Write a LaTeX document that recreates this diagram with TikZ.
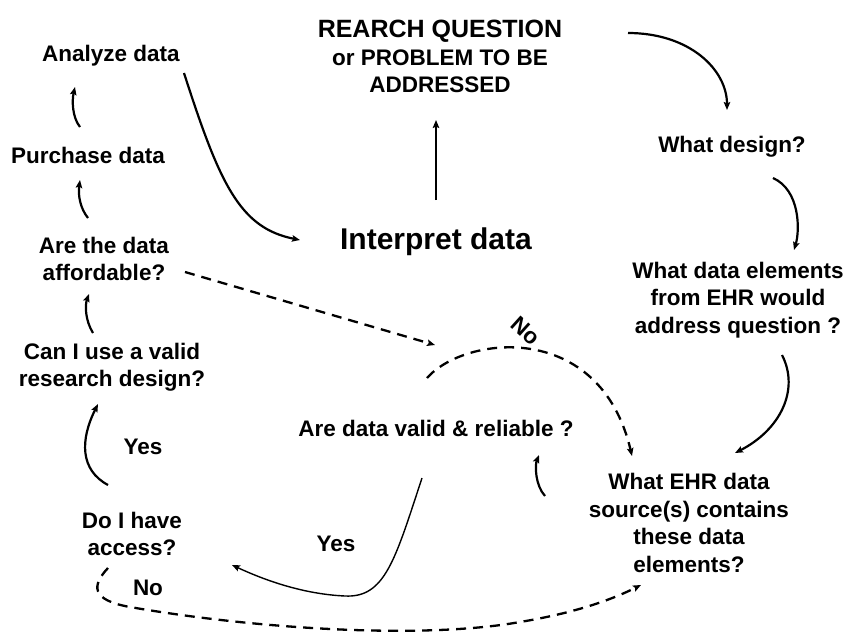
\documentclass[tikz,border=0pt]{standalone}
\usepackage{fontspec}
\setmainfont{Liberation Sans}
\usetikzlibrary{arrows.meta}
\begin{document}
\begin{tikzpicture}[x=1pt,y=-1pt,
  lbl/.style={inner sep=0pt,align=center,font=\fontsize{22.5}{27.5}\selectfont\bfseries},
  conn/.style={line width=2.2pt,-{Stealth[length=8pt,width=6.5pt,inset=1.5pt]}},
  thinconn/.style={line width=1.4pt,-{Stealth[length=8pt,width=6.5pt,inset=1.5pt]}},
  dconn/.style={line width=2.3pt,dash pattern=on 10pt off 7pt,-{Stealth[length=8pt,width=6.5pt,inset=1.5pt]}}]
\useasboundingbox (0,0) rectangle (847,632);
% nodes
\node[lbl] (research) at (440,56.5) {\fontsize{25}{29.5}\selectfont REARCH QUESTION\\or PROBLEM TO BE\\ADDRESSED};
\node[lbl] (design) at (732,147) {What design?};
\node[lbl] (elements) at (738,300) {What data elements\\from EHR would\\address question ?};
\node[lbl] (ehrsrc) at (689,523) {What EHR data\\source(s) contains\\these data\\elements?};
\node[lbl] (valid) at (436,428) {Are data valid \& reliable ?};
\node[lbl] (interpret) at (436,242) {\fontsize{30}{36}\selectfont Interpret data};
\node[lbl] (analyze) at (111,56) {Analyze data};
\node[lbl] (purchase) at (88,155) {Purchase data};
\node[lbl] (afford) at (104,259) {Are the data\\affordable?};
\node[lbl] (canuse) at (112,367) {Can I use a valid\\research design?};
\node[lbl] (access) at (132,534) {Do I have\\access?};
\node[lbl] (yes1) at (143,447) {Yes};
\node[lbl] (yes2) at (336,544) {Yes};
\node[lbl] (no1) at (148,588) {No};
\node[lbl,rotate=-42] (no2) at (526,331) {No};
% connector end points
\coordinate (r1) at (628,33);   \coordinate (d0) at (727,110);
\coordinate (d1) at (773,178);  \coordinate (e0) at (794,250);
\coordinate (e1) at (782,355);  \coordinate (s0) at (735,453);
\coordinate (s1) at (545,496);  \coordinate (v0) at (539,455);
\coordinate (v1) at (427,378);  \coordinate (s2) at (632,456);
\coordinate (v2) at (422,478);  \coordinate (a0) at (232,565);
\coordinate (a1) at (108,485);  \coordinate (c0) at (98,404);
\coordinate (c1) at (93,333);   \coordinate (f0) at (89,294);
\coordinate (f1) at (88,218);   \coordinate (p0) at (80,180);
\coordinate (p1) at (80,127);   \coordinate (n0) at (75,87);
\coordinate (n1) at (184,73);   \coordinate (i0) at (300,240);
\coordinate (i1) at (436,200);  \coordinate (q0) at (436,120);
\coordinate (f2) at (185,272);  \coordinate (m0) at (435,345);
\coordinate (a2) at (108,568);  \coordinate (s3) at (641,585);
% connectors
\draw[conn] (r1) .. controls (690,33) and (727,70) .. (d0);
\draw[conn] (d1) .. controls (800,190) and (800,230) .. (e0);
\draw[conn] (e1) .. controls (800,390) and (780,430) .. (s0);
\draw[conn] (s1) .. controls (535,485) and (535,465) .. (v0);
\draw[dconn] (v1) .. controls (465,335) and (600,320) .. (s2);
\draw[thinconn] (v2) .. controls (395,560) and (385,598) .. (345,596) .. controls (300,594) and (260,578) .. (a0);
\draw[conn] (a1) .. controls (80,470) and (80,440) .. (c0);
\draw[conn] (c1) .. controls (85,320) and (85,305) .. (f0);
\draw[conn] (f1) .. controls (80,208) and (78,195) .. (p0);
\draw[conn] (p1) .. controls (72,117) and (72,100) .. (n0);
\draw[conn] (n1) .. controls (220,185) and (240,228) .. (i0);
\draw[conn] (i1) -- (q0);
\draw[dconn] (f2) -- (m0);
\draw[dconn] (a2) .. controls (92,585) and (90,600) .. (130,607) .. controls (250,628) and (420,640) .. (520,622) .. controls (580,612) and (615,598) .. (s3);
\end{tikzpicture}
\end{document}
